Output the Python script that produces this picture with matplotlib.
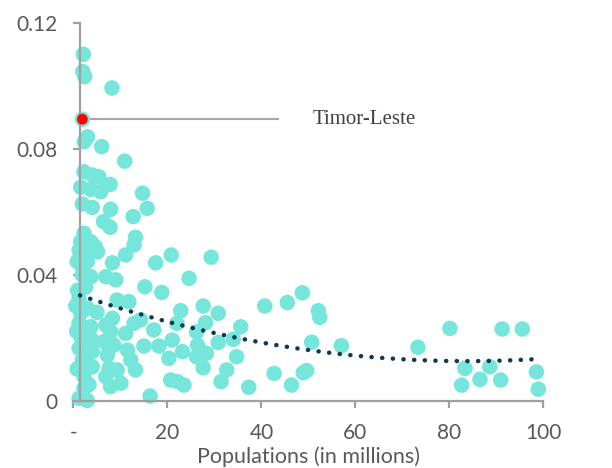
import numpy as np
import matplotlib
matplotlib.use("Agg")
import matplotlib.pyplot as plt

plt.rcParams['font.family'] = ['Lato', 'DejaVu Sans']

# population (millions) and value for each country
population = [
    2.1, 2.0, 2.4, 8.2, 1.9, 2.3, 3.0, 6.0, 10.9, 2.25,
    4.0, 5.4, 7.8, 1.55, 3.7, 5.8, 14.7, 1.9, 4.0, 7.9,
    15.7, 12.7, 6.4, 7.8, 2.25, 1.55, 3.7, 4.7, 1.2, 3.3,
    5.1, 0.8, 2.95, 1.9, 13.2, 12.9, 11.1, 8.3, 17.5, 20.8,
    24.6, 29.3,
    1.9, 3.7, 6.9, 9.0, 15.2, 18.8, 1.2, 9.3, 11.8, 22.8,
    8.3, 6.9, 12.9, 14.3, 17.1, 22.0, 7.9, 11.1, 21.0, 15.0,
    18.2, 23.2, 20.3, 6.5, 8.6, 11.5, 12.2, 13.2, 7.2, 7.6,
    9.3, 7.9, 10.1, 6.9, 20.7, 22.1, 23.5, 16.3,
    1.55, 2.95, 1.2, 3.7, 1.55, 4.0, 1.2, 4.0, 1.9, 4.0,
    2.25, 2.25, 2.95, 1.2, 0.9, 2.6, 0.7, 2.8, 0.8, 3.3,
    0.5, 5.0,
    27.6, 30.8, 28.1, 26.2, 35.6, 34.0, 30.8, 26.4, 28.3, 26.2,
    27.6, 34.7, 32.6, 31.4, 37.3, 40.7, 45.5, 48.7, 52.1, 52.4,
    50.7, 57.0, 42.7, 46.4, 48.9, 49.6, 73.3, 80.1, 91.2, 95.5,
    83.3, 88.6, 82.6, 86.5, 90.9, 98.5, 98.9,
]
value = [
    0.1099, 0.1044, 0.1028, 0.0992, 0.0893, 0.0822, 0.0837, 0.0806, 0.0760, 0.0726,
    0.0716, 0.0710, 0.0686, 0.0677, 0.0670, 0.0663, 0.0658, 0.0624, 0.0613, 0.0607,
    0.0610, 0.0584, 0.0568, 0.0550, 0.0531, 0.0504, 0.0504, 0.0488, 0.0477, 0.0472,
    0.0472, 0.0441, 0.0441, 0.0420, 0.0518, 0.0494, 0.0462, 0.0437, 0.0437, 0.0462,
    0.0388, 0.0455,
    0.0398, 0.0393, 0.0393, 0.0383, 0.0361, 0.0343, 0.0324, 0.0319, 0.0314, 0.0285,
    0.0261, 0.0240, 0.0245, 0.0256, 0.0224, 0.0245, 0.0218, 0.0213, 0.0192, 0.0173,
    0.0173, 0.0155, 0.0134, 0.0187, 0.0176, 0.0160, 0.0129, 0.0097, 0.0144, 0.0102,
    0.0097, 0.0044, 0.0055, 0.0076, 0.0065, 0.0060, 0.0049, 0.0014,
    0.0277, 0.0293, 0.0245, 0.0234, 0.0203, 0.0192, 0.0166, 0.0155, 0.0129, 0.0107,
    0.0076, 0.0039, 0.0000, 0.0007, 0.0350, 0.0360, 0.0220, 0.0140, 0.0100, 0.0050,
    0.0300, 0.0280,
    0.0300, 0.0277, 0.0247, 0.0218, 0.0234, 0.0194, 0.0184, 0.0176, 0.0150, 0.0139,
    0.0104, 0.0139, 0.0097, 0.0060, 0.0042, 0.0300, 0.0311, 0.0342, 0.0285, 0.0264,
    0.0185, 0.0174, 0.0086, 0.0049, 0.0088, 0.0095, 0.0169, 0.0229, 0.0227, 0.0227,
    0.0102, 0.0107, 0.0049, 0.0067, 0.0065, 0.0091, 0.0036,
]

# order-2 polynomial trendline as shown on the chart (fitted on all countries)
trend_coef = [3.07e-6, -5.15e-4, 0.0341]
trend_start = 1.4

highlight_name = "Timor-Leste"
highlight_pop = 1.9
highlight_value = 0.0893

x_ticks = [0, 20, 40, 60, 80, 100]
x_labels = ["-", "20", "40", "60", "80", "100"]
y_ticks = [0, 0.04, 0.08, 0.12]
y_labels = ["0", "0.04", "0.08", "0.12"]

fig = plt.figure(figsize=(6.12, 4.68), dpi=100)
ax = fig.add_axes([0.120, 0.1442, 0.768, 0.8077])

ax.scatter(population, value, s=125, color="#76E6DA", edgecolors="none",
           zorder=2, clip_on=False)

xs = np.linspace(trend_start, max(population), 300)
ax.plot(xs, np.polyval(trend_coef, xs), color="#0B3B52", lw=3.2,
        linestyle=(0, (0.05, 2.35)), dash_capstyle="round", zorder=3)

# highlighted country
ax.plot([highlight_pop, 43.5], [highlight_value, highlight_value],
        color="#A6A6A6", lw=1.5, zorder=1)
ax.scatter([highlight_pop], [highlight_value], s=60, color="#FF0000",
           edgecolors="none", zorder=4, clip_on=False)
ax.text(50.8, highlight_value, highlight_name, family="Liberation Serif",
        fontsize=15, color="#404040", va="center", ha="left")

ax.set_xlim(0, 100)
ax.set_ylim(0, 0.12)
ax.set_xticks(x_ticks)
ax.set_xticklabels(x_labels)
ax.set_yticks(y_ticks)
ax.set_yticklabels(y_labels)

for side in ["top", "right"]:
    ax.spines[side].set_visible(False)
ax.spines["left"].set_position(("data", 1.4))
for side in ["left", "bottom"]:
    ax.spines[side].set_color("#A0A0A0")
    ax.spines[side].set_linewidth(1.6)
ax.tick_params(axis="both", direction="out", length=5, width=1.6,
               color="#A0A0A0", labelsize=15, labelcolor="#595959")
ax.tick_params(axis="y", pad=11)
ax.tick_params(axis="x", pad=11)

ax.set_xlabel("Populations (in millions)", fontsize=15.5, color="#595959",
              labelpad=3)

fig.savefig("out.png", dpi=100)
